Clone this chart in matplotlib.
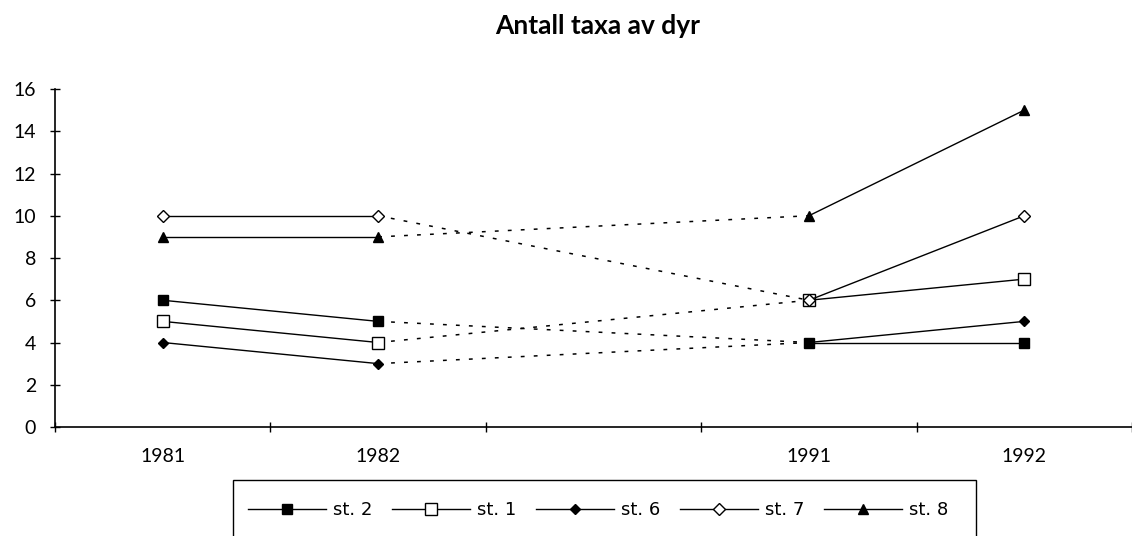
import matplotlib
matplotlib.use('Agg')
import matplotlib.pyplot as plt
from matplotlib.patches import Rectangle

# Antall taxa per stasjon og år
years = ['1981', '1982', '', '1991', '1992']
stations = ['st. 2', 'st. 1', 'st. 6', 'st. 7', 'st. 8']
st2 = [6, 5, 4, 4]
st1 = [5, 4, 6, 7]
st6 = [4, 3, 4, 5]
st7 = [10, 10, 6, 10]
st8 = [9, 9, 10, 15]

plt.rcParams['font.family'] = ['Lato', 'DejaVu Sans']

markers = [
    dict(marker='s', markersize=7, markerfacecolor='black'),
    dict(marker='s', markersize=8, markerfacecolor='white'),
    dict(marker='D', markersize=5, markerfacecolor='black'),
    dict(marker='D', markersize=6, markerfacecolor='white'),
    dict(marker='^', markersize=7, markerfacecolor='black'),
]

W, H = 1132, 536
fig = plt.figure(figsize=(W / 100, H / 100), dpi=100)
ax = fig.add_axes([55 / W, 109 / H, 1077 / W, 338 / H])

# posisjoner for årene: 1981, 1982, (tom), 1991, 1992
xpos = [0, 1, 3, 4]
handles = []
for name, vals, mk in zip(stations, [st2, st1, st6, st7, st8], markers):
    # heltrukket innenfor hver periode
    line, = ax.plot(xpos[:2], vals[:2], color='black', lw=1,
                    markeredgecolor='black', markeredgewidth=1, label=name, **mk)
    ax.plot(xpos[2:], vals[2:], color='black', lw=1,
            markeredgecolor='black', markeredgewidth=1, **mk)
    # stiplet mellom 1982 og 1991
    ax.plot(xpos[1:3], vals[1:3], color='black', lw=1.1,
            linestyle=(0, (2.5, 6)), zorder=1)
    handles.append(line)

ax.set_xlim(-0.5, -0.5 + 1077 / 217)
ax.set_ylim(0, 16)
ax.set_yticks(range(0, 17, 2))
ax.set_xticks(range(len(years)))
ax.set_xticklabels(years)
ax.set_xticks([k + 0.5 for k in range(-1, 5)], minor=True)
ax.tick_params(axis='x', which='major', length=0, labelsize=14, pad=15)
ax.tick_params(axis='x', which='minor', direction='inout', length=7.5, width=1)
ax.tick_params(axis='y', direction='inout', length=7.5, width=1, labelsize=14, pad=10)

for side in ['top', 'right']:
    ax.spines[side].set_visible(False)
for side in ['left', 'bottom']:
    ax.spines[side].set_linewidth(1.2)

fig.text(598 / W, 1 - 26 / H, 'Antall taxa av dyr', ha='center', va='center',
         fontsize=19, fontweight='bold')

# legendeboks, nedre kant går utenfor bildet
fig.patches.append(Rectangle((233 / W, -0.05), (976 - 233) / W, 0.05 + 1 - 480 / H,
                             transform=fig.transFigure, facecolor='white',
                             edgecolor='black', linewidth=1, zorder=2))
leg = fig.legend(handles=handles, loc='center left', ncol=5,
                 bbox_to_anchor=(248 / W, 1 - 510 / H),
                 prop={'family': 'DejaVu Sans', 'size': 13}, frameon=False,
                 handlelength=4.3, handletextpad=0.4, columnspacing=1.1,
                 borderpad=0, borderaxespad=0)
leg.set_zorder(3)

fig.savefig('out.png', dpi=100)
